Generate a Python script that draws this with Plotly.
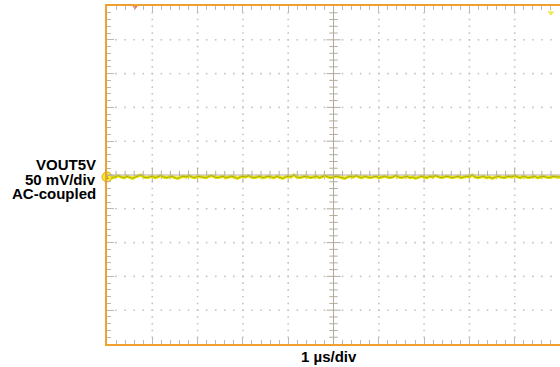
import plotly.graph_objects as go

# ---- data ----
time_us_start = 0.0
time_us_end = 10.0
vout_mV = [
    -3, -2, -4, -3, -1, -3, -4, -2, -3, -5, -3, -2, 0, -3, -4, -3, -2, -4, -3, -1,
    -3, -4, -3, -2, -4, -5, -3, -2, -3, -1, -3, -4, -2, -3, -3, -4, -2, -1, -3, -4,
    -3, -2, -4, -3, -2, -3, -5, -3, -2, -3, -1, -3, -4, -3, -2, -4, -3, -2, -3, -4,
    -2, -3, -5, -3, -2, -3, 0, -3, -4, -3, -2, -3, -4, -3, -2, -4, -3, -1, -3, -4,
    -3, -2, -3, -4, -5, -3, -2, -3, -1, -3, -4, -2, -3, -4, -3, -2, -4, -3, -2, -3,
    -4, -3, -1, -3, -4, -3, -2, -4, -3, -5, -3, -2, -3, -4, -2, -3, -1, -3, -4, -3,
    -2, -3, -4, -3, -2, -4, -3, -2, -3, 0, -3, -4, -3, -2, -4, -3, -5, -3, -2, -3,
    -4, -3, -2, -3, -1, -3, -4, -2, -3, -4, -3, -2, -4, -3, -2, -3, -4, -3, -2, -3, -3,
]
channel_label = ["VOUT5V", "50 mV/div", "AC-coupled"]
time_label = "1 µs/div"
x_divs = 10
y_divs = 10
volts_per_div = 50
trigger_pos_us = 0.62
trigger_level_us = 9.8

# ---- style ----
ORANGE = "#F0A030"
GRID = "#C4C4C4"
AXIS = "#B4AC9C"
YELLOW = "#E8E810"

n = len(vout_mV)
t = [time_us_start + (time_us_end - time_us_start) * i / (n - 1) for i in range(n)]
ymax = volts_per_div * y_divs / 2

fig = go.Figure()

# grid dots
gx, gy = [], []
for k in range(1, y_divs):
    yv = -ymax + k * volts_per_div
    if abs(yv) < 1e-9:
        continue
    for m in range(1, x_divs * 5):
        gx.append(m / 5)
        gy.append(yv)
for k in range(1, x_divs):
    if k == x_divs // 2:
        continue
    for m in range(1, y_divs * 5):
        gx.append(k)
        gy.append(-ymax + m * volts_per_div / 5)
fig.add_trace(go.Scatter(x=gx, y=gy, mode="markers", hoverinfo="skip",
                         marker=dict(symbol="square", size=1.6, color=GRID)))

# center axes
fig.add_shape(type="line", x0=x_divs / 2, x1=x_divs / 2, y0=-ymax, y1=ymax,
              line=dict(color=AXIS, width=1))
fig.add_shape(type="line", x0=0, x1=x_divs, y0=0, y1=0,
              line=dict(color=AXIS, width=1))
cx_minor = [m / 5 for m in range(1, x_divs * 5) if m % 5]
cx_major = [k for k in range(1, x_divs)]
cy_minor = [-ymax + m * volts_per_div / 5 for m in range(1, y_divs * 5) if m % 5]
cy_major = [-ymax + k * volts_per_div for k in range(1, y_divs)]
fig.add_trace(go.Scatter(x=cx_minor, y=[0] * len(cx_minor), mode="markers", hoverinfo="skip",
                         marker=dict(symbol="line-ns", size=6, line=dict(color=AXIS, width=1))))
fig.add_trace(go.Scatter(x=cx_major, y=[0] * len(cx_major), mode="markers", hoverinfo="skip",
                         marker=dict(symbol="line-ns", size=10, line=dict(color=AXIS, width=1))))
fig.add_trace(go.Scatter(x=[x_divs / 2] * len(cy_minor), y=cy_minor, mode="markers", hoverinfo="skip",
                         marker=dict(symbol="line-ew", size=6, line=dict(color=AXIS, width=1))))
fig.add_trace(go.Scatter(x=[x_divs / 2] * len(cy_major), y=cy_major, mode="markers", hoverinfo="skip",
                         marker=dict(symbol="line-ew", size=10, line=dict(color=AXIS, width=1))))

# signal
fig.add_trace(go.Scatter(x=t, y=vout_mV, mode="lines", hoverinfo="skip",
                         line=dict(color=YELLOW, width=3.2)))
fig.add_trace(go.Scatter(x=t, y=vout_mV, mode="lines", hoverinfo="skip", opacity=0.65,
                         line=dict(color="#5E5E10", width=0.7)))

# channel marker
fig.add_trace(go.Scatter(x=[0], y=[vout_mV[0]], mode="markers+text", text=["1"],
                         textposition="middle center", cliponaxis=False, hoverinfo="skip",
                         textfont=dict(size=6, color="#806000", family="Liberation Sans"),
                         marker=dict(size=10, color="#F4E830", line=dict(color="#E0B020", width=1))))
# trigger position marker
fig.add_trace(go.Scatter(x=[trigger_pos_us], y=[ymax], mode="markers", cliponaxis=False,
                         hoverinfo="skip",
                         marker=dict(symbol="triangle-down", size=7, color="#F07850")))
# trigger level marker
fig.add_trace(go.Scatter(x=[trigger_level_us], y=[ymax * 0.96], mode="markers", cliponaxis=False,
                         hoverinfo="skip",
                         marker=dict(symbol="triangle-down", size=6, color="#F0E850")))

axis_common = dict(showgrid=False, zeroline=False, showline=True, linecolor=ORANGE,
                   linewidth=2, ticks="inside", ticklen=7,
                   tickcolor="#B8B8B8", tickwidth=1, showticklabels=False,
                   fixedrange=True)
fig.update_xaxes(range=[0, x_divs], tick0=0, dtick=1, mirror="ticks",
                 minor=dict(ticks="inside", ticklen=4, dtick=0.2, tickcolor="#B8B8B8",
                            showgrid=False),
                 **axis_common)
fig.update_yaxes(range=[-ymax, ymax], tick0=-ymax, dtick=volts_per_div, mirror=False,
                 minor=dict(ticks="inside", ticklen=4, dtick=volts_per_div / 5,
                            tickcolor="#B8B8B8", showgrid=False),
                 **axis_common)

# labels
top, bottom = 6, 344
def py(pix):
    return (bottom - pix) / (bottom - top)

for txt, ypix in zip(channel_label, [164.5, 179, 193.5]):
    fig.add_annotation(x=0, xref="paper", y=py(ypix), yref="paper", text=f"<b>{txt}</b>",
                       showarrow=False, xanchor="right", yanchor="middle", xshift=-9,
                       font=dict(family="Liberation Sans", size=15, color="black"))
fig.add_annotation(x=0.49, xref="paper", y=py(356), yref="paper", text=f"<b>{time_label}</b>",
                   showarrow=False, xanchor="center", yanchor="middle",
                   font=dict(family="Liberation Sans", size=15, color="black"))

fig.update_layout(width=560, height=367, margin=dict(l=107, r=0, t=6, b=23),
                  paper_bgcolor="white", plot_bgcolor="white", showlegend=False)

fig.write_html("out.html", config={"displayModeBar": False},
               post_script="document.body.style.margin='0';")
